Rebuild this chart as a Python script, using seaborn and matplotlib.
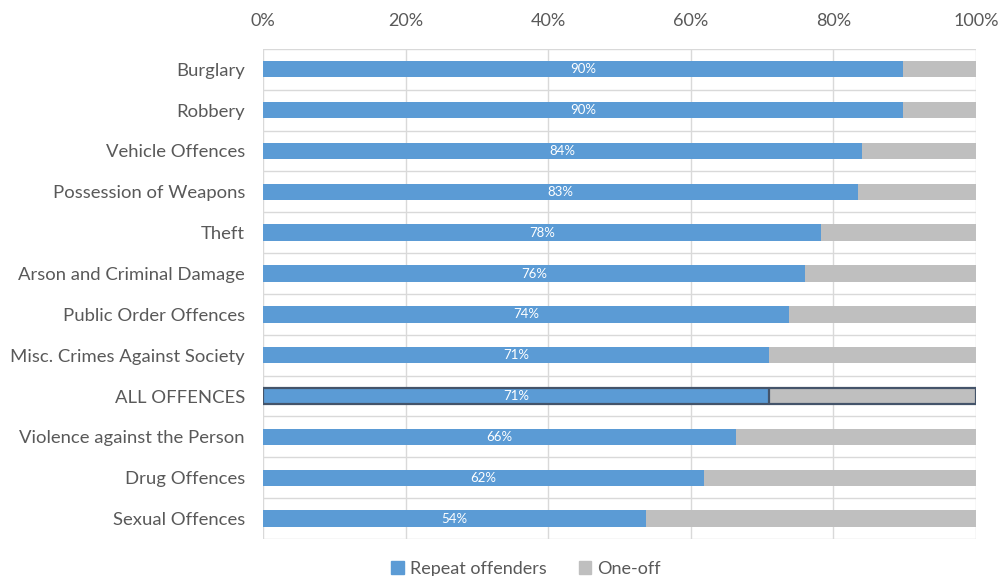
import matplotlib
matplotlib.use("Agg")
import matplotlib.pyplot as plt
import seaborn as sns
import pandas as pd
from matplotlib.ticker import FixedLocator
from matplotlib.patches import Rectangle, Patch

categories = ["Burglary", "Robbery", "Vehicle Offences", "Possession of Weapons", "Theft",
              "Arson and Criminal Damage", "Public Order Offences", "Misc. Crimes Against Society",
              "ALL OFFENCES", "Violence against the Person", "Drug Offences", "Sexual Offences"]
repeat = [89.8, 89.8, 84.0, 83.4, 78.3, 76.0, 73.8, 71.0, 71.0, 66.3, 61.9, 53.7]
labels = ["90%", "90%", "84%", "83%", "78%", "76%", "74%", "71%", "71%", "66%", "62%", "54%"]
total = [100] * len(categories)
xticks = [0, 20, 40, 60, 80, 100]

sns.set_theme(style="white")
plt.rcParams['font.family'] = ['Lato', 'DejaVu Sans']

df = pd.DataFrame({"cat": categories, "repeat": repeat, "total": total})

fig = plt.figure(figsize=(9.98, 5.76), dpi=100)
ax = fig.add_axes([0.2635, 0.0642, 0.7145, 0.851])

blue = "#5b9bd5"
grey = "#bfbfbf"
sns.barplot(data=df, y="cat", x="total", orient="h", color=grey, width=0.4,
            saturation=1, ax=ax, edgecolor="none", linewidth=0, zorder=2)
sns.barplot(data=df, y="cat", x="repeat", orient="h", color=blue, width=0.4,
            saturation=1, ax=ax, edgecolor="none", linewidth=0, zorder=3)

for i, (v, lab) in enumerate(zip(repeat, labels)):
    ax.text(v / 2, i, lab, ha="center", va="center", color="white", fontsize=9.5, zorder=5)

idx = categories.index("ALL OFFENCES")
ax.add_patch(Rectangle((0, idx - 0.2), 100, 0.4, fill=False, edgecolor="#44546a", lw=1.6, zorder=6))
ax.plot([repeat[idx], repeat[idx]], [idx - 0.2, idx + 0.2], color="#44546a", lw=1.6, zorder=6)

ax.set_xlim(0, 100)
ax.set_ylim(len(categories) - 0.5, -0.5)
ax.xaxis.tick_top()
ax.set_xticks(xticks)
ax.set_xticklabels([f"{t}%" for t in xticks], color="#595959", fontsize=13)
ax.tick_params(axis="x", length=0, pad=14)
ax.tick_params(axis="y", length=0, pad=13, labelsize=13.3, labelcolor="#595959")
ax.set_xlabel("")
ax.set_ylabel("")
ax.yaxis.set_minor_locator(FixedLocator([i - 0.5 for i in range(len(categories) + 1)]))
ax.grid(axis="x", which="major", color="#d9d9d9", lw=1, zorder=0)
ax.grid(axis="y", which="minor", color="#d9d9d9", lw=1, zorder=0)
ax.grid(axis="y", which="major", visible=False)
ax.set_axisbelow(True)
for s in ax.spines.values():
    s.set_visible(False)

handles = [Patch(color=blue, label="Repeat offenders"), Patch(color=grey, label="One-off")]
fig.legend(handles=handles, loc="lower center", bbox_to_anchor=(0.527, -0.03), ncol=2,
           frameon=False, fontsize=13, handlelength=0.7, handleheight=0.7,
           handletextpad=0.3, columnspacing=1.8, labelcolor="#595959")

fig.savefig("out.png", dpi=100)
